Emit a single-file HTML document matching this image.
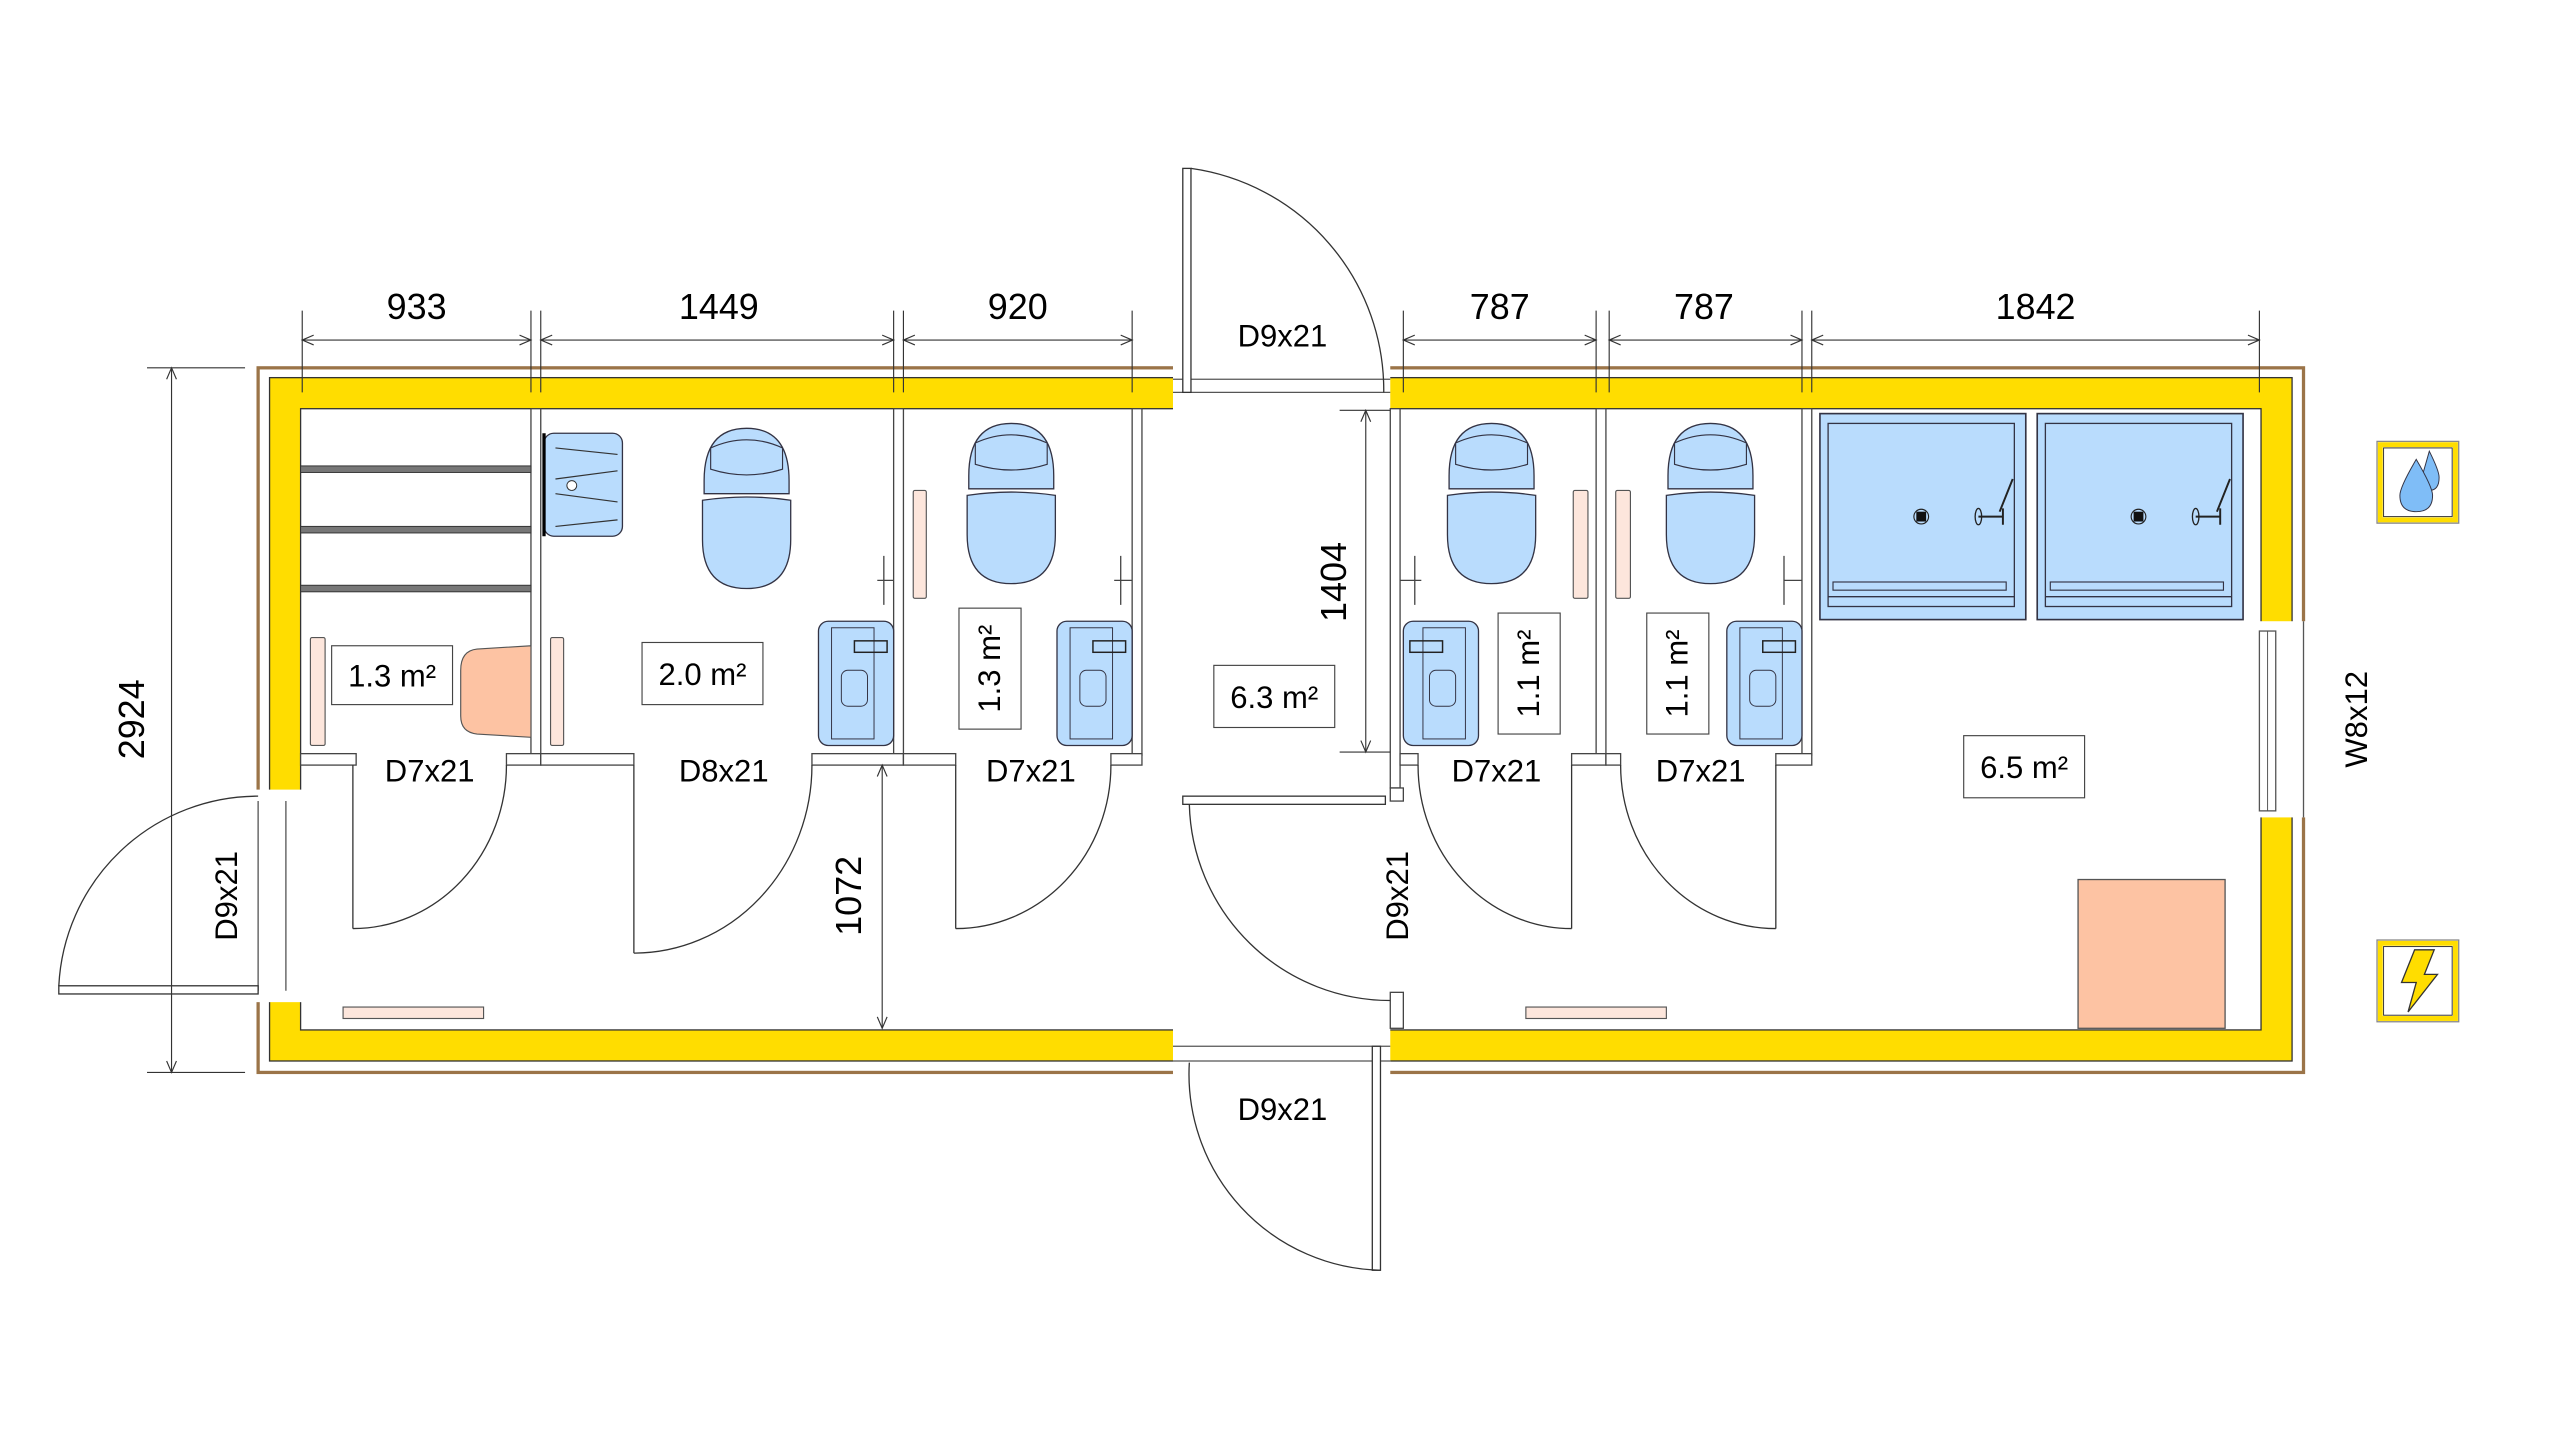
<!DOCTYPE html>
<html><head><meta charset="utf-8"><style>
html,body{margin:0;padding:0;background:#fff;}
svg{display:block;}
text{font-family:"Liberation Sans",sans-serif;fill:#000;}
</style></head><body>
<svg width="2560" height="1437" viewBox="0 0 1567 879" preserveAspectRatio="none" xmlns="http://www.w3.org/2000/svg">
<defs>
<g id="toilet">
<path d="M-26,-18 Q-26,-50 0,-50 Q26,-50 26,-18 L26,-10 L-26,-10 Z" fill="#b9dcfd" stroke="#334" stroke-width="0.8"/>
<path d="M-22,-38 Q0,-48 22,-38 L22,-25 Q0,-18 -22,-25 Z" fill="#b9dcfd" stroke="#334" stroke-width="0.7"/>
<path d="M-27,-6 Q0,-10 27,-6 L27,18 Q27,48 0,48 Q-27,48 -27,18 Z" fill="#b9dcfd" stroke="#334" stroke-width="0.8"/>
</g>
<g id="basin">
<rect x="0" y="0" width="46" height="76" rx="6" fill="#b9dcfd" stroke="#334" stroke-width="0.8"/>
<rect x="8" y="4" width="26" height="68" fill="none" stroke="#334" stroke-width="0.6"/>
<rect x="14" y="30" width="16" height="22" rx="4" fill="none" stroke="#334" stroke-width="0.6"/>
<rect x="22" y="12" width="20" height="7" fill="none" stroke="#222" stroke-width="0.9"/>
</g>
<g id="basinL">
<rect x="0" y="0" width="46" height="76" rx="6" fill="#b9dcfd" stroke="#334" stroke-width="0.8"/>
<rect x="12" y="4" width="26" height="68" fill="none" stroke="#334" stroke-width="0.6"/>
<rect x="16" y="30" width="16" height="22" rx="4" fill="none" stroke="#334" stroke-width="0.6"/>
<rect x="4" y="12" width="20" height="7" fill="none" stroke="#222" stroke-width="0.9"/>
</g>
<g id="shower">
<rect x="0" y="0" width="126" height="126" fill="#b9dcfd" stroke="#334" stroke-width="1"/>
<rect x="5" y="6" width="114" height="112" fill="none" stroke="#334" stroke-width="0.8"/>
<line x1="5" y1="112" x2="119" y2="112" stroke="#334" stroke-width="0.8"/>
<rect x="8" y="103" width="106" height="5" fill="none" stroke="#334" stroke-width="0.7"/>
<circle cx="62" cy="63" r="4.5" fill="none" stroke="#222" stroke-width="0.7"/>
<rect x="59" y="60" width="6" height="6" fill="#111"/>
<path d="M97,63 L112,63 M112,58 L112,68 M110,60 L118,40" stroke="#222" stroke-width="1.2" fill="none"/>
<ellipse cx="97" cy="63" rx="2" ry="5" fill="none" stroke="#222" stroke-width="0.8"/>
</g>
</defs>

<rect x="158" y="225" width="1252" height="431" fill="#fff" stroke="#9b7448" stroke-width="2"/>
<rect x="165" y="231" width="1238" height="418" fill="#ffdd00" stroke="#333" stroke-width="0.8"/>
<rect x="184" y="250" width="1200" height="380" fill="#fff" stroke="#333" stroke-width="0.8"/>

<rect x="718" y="223" width="133" height="29" fill="#fff"/>
<line x1="718" y1="232" x2="851" y2="232" stroke="#555" stroke-width="0.8"/>
<line x1="718" y1="240" x2="851" y2="240" stroke="#555" stroke-width="0.8"/>
<rect x="718" y="629" width="133" height="29" fill="#fff"/>
<line x1="718" y1="640" x2="851" y2="640" stroke="#555" stroke-width="0.8"/>
<line x1="718" y1="649" x2="851" y2="649" stroke="#555" stroke-width="0.8"/>
<rect x="156" y="483" width="30" height="130" fill="#fff"/>
<line x1="158" y1="490" x2="158" y2="606" stroke="#555" stroke-width="0.8"/>
<line x1="175" y1="490" x2="175" y2="606" stroke="#555" stroke-width="0.8"/>
<rect x="1382" y="380" width="30" height="120" fill="#fff"/>
<line x1="1410" y1="380" x2="1410" y2="500" stroke="#555" stroke-width="0.8"/>
<rect x="1383" y="386" width="10" height="110" fill="none" stroke="#555" stroke-width="0.8"/>
<line x1="1388" y1="386" x2="1388" y2="496" stroke="#555" stroke-width="0.6"/>

<g fill="#fff" stroke="#444" stroke-width="0.8">
<rect x="325" y="250" width="6" height="212"/>
<rect x="547" y="250" width="6" height="212"/>
<rect x="693" y="250" width="6" height="212"/>
<rect x="851" y="250" width="6" height="232"/>
<rect x="977" y="250" width="6" height="212"/>
<rect x="1103" y="250" width="6" height="212"/>
</g>
<g fill="#fff" stroke="#444" stroke-width="0.8">
<rect x="184" y="461" width="34" height="7"/><rect x="310" y="461" width="21" height="7"/>
<rect x="331" y="461" width="57" height="7"/><rect x="497" y="461" width="56" height="7"/>
<rect x="553" y="461" width="32" height="7"/><rect x="680" y="461" width="19" height="7"/>
<rect x="857" y="461" width="11" height="7"/><rect x="962" y="461" width="21" height="7"/>
<rect x="983" y="461" width="9" height="7"/><rect x="1087" y="461" width="22" height="7"/>
<rect x="851" y="482" width="8" height="8"/><rect x="851" y="607" width="8" height="22"/>
</g>

<g fill="none" stroke="#333" stroke-width="0.8">
<rect x="724" y="103" width="5" height="137" fill="#fff"/>
<path d="M729,103 A137,137 0 0 1 847,240"/>
<rect x="840" y="640" width="5" height="137" fill="#fff"/>
<path d="M845,777 A120,120 0 0 1 728,650"/>
<rect x="724" y="487" width="124" height="5" fill="#fff"/>
<path d="M728,492 A123,123 0 0 0 851,612"/>
<rect x="36" y="603" width="122" height="5" fill="#fff"/>
<path d="M36,603 A122,122 0 0 1 158,487"/>
<line x1="216" y1="468" x2="216" y2="568"/><path d="M216,568 A94,100 0 0 0 310,468"/>
<line x1="388" y1="468" x2="388" y2="583"/><path d="M388,583 A109,115 0 0 0 497,468"/>
<line x1="585" y1="468" x2="585" y2="568"/><path d="M585,568 A95,100 0 0 0 680,468"/>
<line x1="962" y1="468" x2="962" y2="568"/><path d="M962,568 A94,100 0 0 1 868,468"/>
<line x1="1087" y1="468" x2="1087" y2="568"/><path d="M1087,568 A95,100 0 0 1 992,468"/>
</g>

<g fill="#777" stroke="#333" stroke-width="0.6">
<rect x="184" y="285" width="141" height="4"/>
<rect x="184" y="322" width="141" height="4"/>
<rect x="184" y="358" width="141" height="4"/>
</g>

<g fill="#fde6dc" stroke="#555" stroke-width="0.7">
<rect x="190" y="390" width="9" height="66" rx="1"/>
<rect x="337" y="390" width="8" height="66" rx="1"/>
<rect x="559" y="300" width="8" height="66" rx="1"/>
<rect x="963" y="300" width="9" height="66" rx="1"/>
<rect x="989" y="300" width="9" height="66" rx="1"/>
<rect x="210" y="616" width="86" height="7"/>
<rect x="934" y="616" width="86" height="7"/>
</g>
<path d="M292,397 L325,395 L325,451 L292,449 Q282,448 282,438 L282,410 Q282,398 292,397 Z" fill="#fdc3a3" stroke="#555" stroke-width="0.7"/>
<rect x="1272" y="538" width="90" height="91" fill="#fdc3a3" stroke="#555" stroke-width="0.8"/>

<rect x="333" y="265" width="48" height="63" rx="6" fill="#b9dcfd" stroke="#334" stroke-width="0.8"/>
<line x1="333" y1="265" x2="333" y2="328" stroke="#000" stroke-width="2"/>
<circle cx="350" cy="297" r="3" fill="#fff" stroke="#333" stroke-width="0.6"/>
<path d="M340,274 L378,278 M340,293 L378,288 M340,302 L378,307 M340,322 L378,318" stroke="#333" stroke-width="0.7" fill="none"/>

<use href="#toilet" x="457" y="312"/>
<use href="#toilet" x="619" y="309"/>
<use href="#toilet" x="913" y="309"/>
<use href="#toilet" x="1047" y="309"/>

<g stroke="#444" stroke-width="0.8" fill="none">
<path d="M541,340 L541,370 M537,355 L547,355"/>
<path d="M686,340 L686,370 M682,355 L693,355"/>
<path d="M866,340 L866,370 M857,355 L870,355"/>
<path d="M1092,340 L1092,370 M1092,355 L1103,355"/>
</g>

<use href="#basin" x="501" y="380"/>
<use href="#basin" x="647" y="380"/>
<use href="#basinL" x="859" y="380"/>
<use href="#basin" x="1057" y="380"/>

<use href="#shower" x="1114" y="253"/>
<use href="#shower" x="1247" y="253"/>

<g fill="#fff" stroke="#444" stroke-width="0.7">
<rect x="203" y="395" width="74" height="36"/>
<rect x="393" y="393" width="74" height="38"/>
<rect x="587" y="372" width="38" height="74"/>
<rect x="743" y="407" width="74" height="38"/>
<rect x="917" y="375" width="38" height="74"/>
<rect x="1008" y="375" width="38" height="74"/>
<rect x="1202" y="450" width="74" height="38"/>
</g>
<g font-size="19" text-anchor="middle">
<text x="240" y="420">1.3 m²</text>
<text x="430" y="419">2.0 m²</text>
<text x="780" y="433">6.3 m²</text>
<text x="1239" y="476">6.5 m²</text>
<text transform="translate(612,409) rotate(-90)">1.3 m²</text>
<text transform="translate(942,412) rotate(-90)">1.1 m²</text>
<text transform="translate(1033,412) rotate(-90)">1.1 m²</text>
</g>

<g font-size="19" text-anchor="middle">
<text x="263" y="478">D7x21</text>
<text x="443" y="478">D8x21</text>
<text x="631" y="478">D7x21</text>
<text x="916" y="478">D7x21</text>
<text x="1041" y="478">D7x21</text>
<text x="785" y="212">D9x21</text>
<text x="785" y="685">D9x21</text>
<text transform="translate(145,548) rotate(-90)">D9x21</text>
<text transform="translate(862,548) rotate(-90)">D9x21</text>
<text transform="translate(1449,440) rotate(-90)">W8x12</text>
</g>

<g stroke="#333" stroke-width="0.7" fill="none">
<line x1="185" y1="208" x2="325" y2="208"/>
<line x1="331" y1="208" x2="547" y2="208"/>
<line x1="553" y1="208" x2="693" y2="208"/>
<line x1="859" y1="208" x2="977" y2="208"/>
<line x1="985" y1="208" x2="1103" y2="208"/>
<line x1="1109" y1="208" x2="1383" y2="208"/>
<path d="M185,190 V240 M325,190 V240 M331,190 V240 M547,190 V240 M553,190 V240 M693,190 V240 M859,190 V240 M977,190 V240 M985,190 V240 M1103,190 V240 M1109,190 V240 M1383,190 V240"/>
<path d="M192,205 L185,208 L192,211 M318,205 L325,208 L318,211 M338,205 L331,208 L338,211 M540,205 L547,208 L540,211 M560,205 L553,208 L560,211 M686,205 L693,208 L686,211 M866,205 L859,208 L866,211 M970,205 L977,208 L970,211 M992,205 L985,208 L992,211 M1096,205 L1103,208 L1096,211 M1116,205 L1109,208 L1116,211 M1376,205 L1383,208 L1376,211"/>
<line x1="105" y1="225" x2="105" y2="656"/>
<path d="M90,225 H150 M90,656 H150 M102,232 L105,225 L108,232 M102,649 L105,656 L108,649"/>
<line x1="836" y1="251" x2="836" y2="460"/>
<path d="M820,251 H851 M820,460 H851 M833,258 L836,251 L839,258 M833,453 L836,460 L839,453"/>
<line x1="540" y1="468" x2="540" y2="629"/>
<path d="M537,475 L540,468 L543,475 M537,622 L540,629 L543,622"/>
</g>
<g font-size="22" text-anchor="middle">
<text x="255" y="195">933</text>
<text x="440" y="195">1449</text>
<text x="623" y="195">920</text>
<text x="918" y="195">787</text>
<text x="1043" y="195">787</text>
<text x="1246" y="195">1842</text>
<text transform="translate(88,440) rotate(-90)">2924</text>
<text transform="translate(824,356) rotate(-90)">1404</text>
<text transform="translate(527,548) rotate(-90)">1072</text>
</g>

<rect x="1455" y="270" width="50" height="50" fill="#fff" stroke="#888" stroke-width="0.8"/>
<rect x="1457" y="272" width="46" height="46" fill="none" stroke="#ffdd00" stroke-width="3"/>
<rect x="1459" y="274" width="42" height="42" fill="none" stroke="#333" stroke-width="0.6"/>
<path d="M1487,276 Q1493,288 1493,292 Q1493,300 1487,300 Q1482,298 1483,290 Z" fill="#7fbdf7" stroke="#334" stroke-width="0.6"/>
<path d="M1479,281 Q1489,298 1489,303 Q1489,313 1479,313 Q1469,313 1469,303 Q1469,298 1479,281 Z" fill="#7fbdf7" stroke="#334" stroke-width="0.6"/>
<rect x="1455" y="575" width="50" height="50" fill="#fff" stroke="#888" stroke-width="0.8"/>
<rect x="1457" y="577" width="46" height="46" fill="none" stroke="#ffdd00" stroke-width="3"/>
<rect x="1459" y="579" width="42" height="42" fill="none" stroke="#333" stroke-width="0.6"/>
<path d="M1478,581 L1490,581 L1484,596 L1492,596 L1474,619 L1479,601 L1470,601 Z" fill="#ffdd00" stroke="#333" stroke-width="0.8"/>
</svg>
</body></html>
